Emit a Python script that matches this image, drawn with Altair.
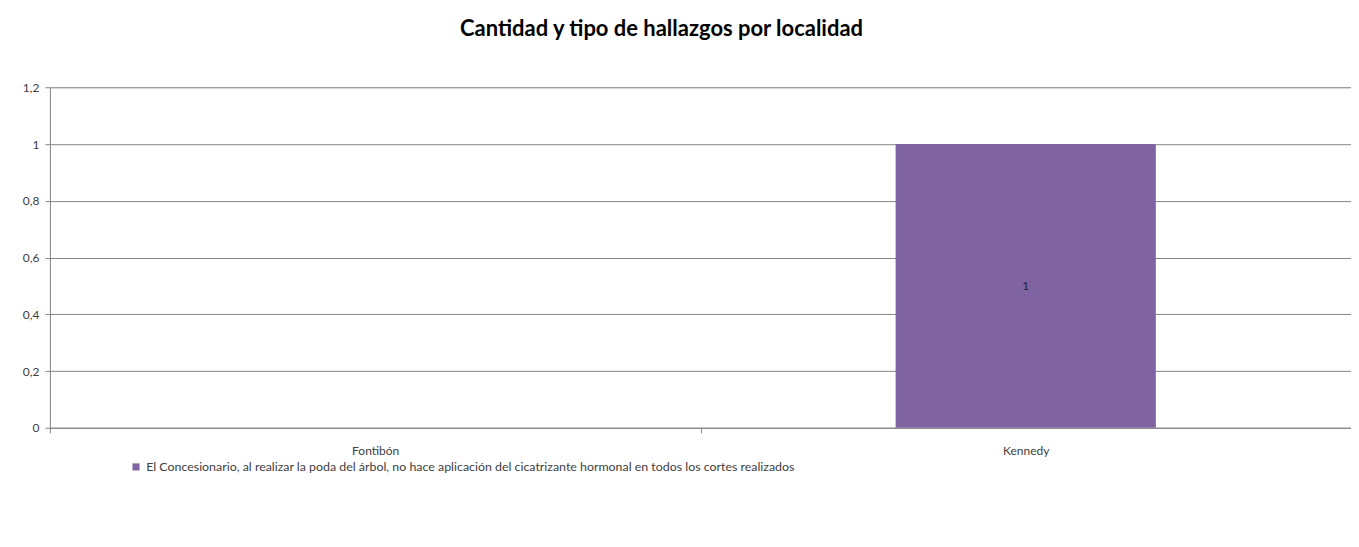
import altair as alt
import pandas as pd

localidades = ["Fontibón", "Kennedy"]
valores = [None, 1]
serie = "El Concesionario, al realizar la poda del árbol,  no  hace aplicación del cicatrizante hormonal en todos los cortes realizados"
y_ticks = [0, 0.2, 0.4, 0.6, 0.8, 1.0, 1.2]

df = pd.DataFrame({"localidad": localidades, "valor": valores, "serie": [serie] * len(localidades)})

FONT = "Lato"

x = alt.X("localidad:N", sort=localidades, title=None,
          scale=alt.Scale(paddingInner=0, paddingOuter=0),
          axis=alt.Axis(labelAngle=0, labelFont=FONT, labelFontSize=12, labelColor="#404040",
                        labelPadding=13, domainColor="#868686", tickColor="#868686",
                        tickBand="extent", tickSize=5, grid=False))

bars = alt.Chart(df).mark_bar(color="#8064A2", width=alt.RelativeBandSize(0.4)).encode(
    x=x,
    y=alt.Y("valor:Q", title=None,
            scale=alt.Scale(domain=[0, 1.2], nice=False),
            axis=alt.Axis(values=y_ticks, labelFont=FONT, labelFontSize=12, labelColor="#404040",
                          labelExpr="replace(format(datum.value, '.2~f'), '.', ',')",
                          gridColor="#868686", domainColor="#868686", tickColor="#868686",
                          tickSize=5, labelPadding=6)),
    color=alt.Color("serie:N", scale=alt.Scale(range=["#8064A2"]),
                    legend=alt.Legend(title=None, orient="none", legendX=80, legendY=374,
                                      symbolType="square", symbolSize=50, labelFont=FONT,
                                      labelFontSize=12.4, labelColor="#404040", labelLimit=1000,
                                      symbolStrokeWidth=0)),
)

labels = alt.Chart(df).transform_filter("isValid(datum.valor)").transform_calculate(
    mid="datum.valor / 2").mark_text(font=FONT, fontSize=12, color="#262626").encode(
    x=alt.X("localidad:N", sort=localidades),
    y=alt.Y("mid:Q"),
    text=alt.Text("valor:Q"),
)

chart = (bars + labels).properties(
    width=1303, height=341,
    title=alt.TitleParams("Cantidad y tipo de hallazgos por localidad", font=FONT, fontSize=22,
                          fontWeight="bold", color="#000000", dx=-39, offset=40),
    autosize=alt.AutoSizeParams(type="none"),
    padding={"left": 42, "top": 79, "right": 0, "bottom": 110},
).configure_view(stroke=None).configure(background="white")

chart.save("out.html", embed_options={"renderer": "svg", "actions": False})
